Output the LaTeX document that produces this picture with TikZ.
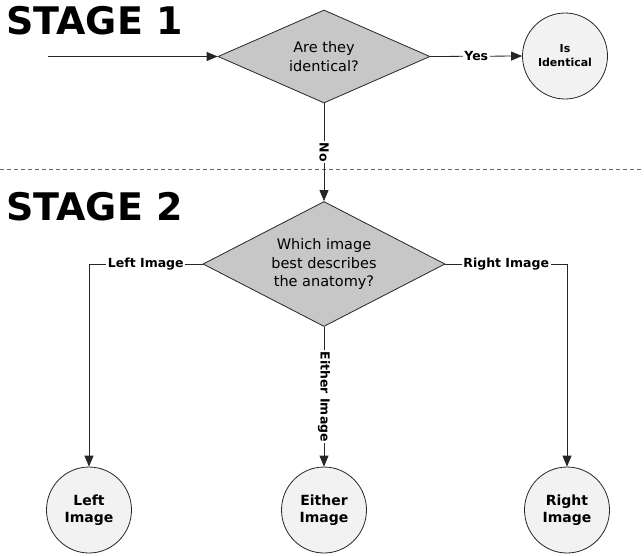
\documentclass[tikz,border=0pt]{standalone}
\usepackage{fontspec}
\setmainfont{DejaVu Sans}
\usetikzlibrary{shapes.geometric,arrows.meta}

\tikzset{
  flow/.style={draw=black!85, line width=0.8pt, -{Triangle[length=11pt,width=9pt]}},
  decision/.style={diamond, aspect=2, draw=black!85, line width=0.8pt, fill=black!22,
    inner sep=0pt, align=center, font=\fontsize{14.5}{18.5}\selectfont},
  outcome/.style={ellipse, draw=black!85, line width=0.8pt, fill=black!5,
    inner sep=0pt, align=center, font=\bfseries\fontsize{14}{17.5}\selectfont},
  edgelabel/.style={fill=white, inner sep=1.5pt, font=\bfseries\fontsize{12.5}{14}\selectfont},
  stagetitle/.style={anchor=west, inner sep=0pt, font=\bfseries\fontsize{38}{40}\selectfont},
}

\begin{document}
\begin{tikzpicture}[x=1pt, y=-1pt]
  \useasboundingbox (0,0) rectangle (644,555);

  % stage headings
  \node[stagetitle] (title1) at (6,21) {STAGE 1};
  \node[stagetitle] (title2) at (6,207) {STAGE 2};

  % separator between the two stages
  \draw[black!60, line width=0.8pt, dash pattern=on 3.5pt off 3.5pt] (0,169) -- (644,169);

  % stage 1
  \coordinate (start) at (48,56.5);
  \node[decision, minimum width=212pt, minimum height=93pt] (d1) at (324,56.5) {Are they\\identical?};
  \node[outcome, minimum width=85pt, minimum height=86pt,
        font=\bfseries\fontsize{11}{14}\selectfont] (same) at (565,56) {Is\\Identical};

  % stage 2
  \node[decision, minimum width=242pt, minimum height=125pt] (d2) at (324,264)
    {Which image\\best describes\\the anatomy?};
  \node[outcome, minimum width=85pt, minimum height=86pt] (left) at (89,510) {Left\\Image};
  \node[outcome, minimum width=85pt, minimum height=86pt] (either) at (324,510) {Either\\Image};
  \node[outcome, minimum width=85pt, minimum height=86pt] (right) at (567,510) {Right\\Image};

  % connectors
  \draw[flow] (start) -- (d1.west);
  \draw[flow] (d1.east) -- node[edgelabel] {Yes} (same.west);
  \draw[flow] (d1.south) -- node[edgelabel, rotate=-90, pos=0.5] {No} (d2.north);
  \draw[flow] (d2.west) -| node[edgelabel, pos=0.25] {Left Image} (left.north);
  \draw[flow] (d2.east) -| node[edgelabel, pos=0.25] {Right Image} (right.north);
  \draw[flow] (d2.south) -- node[edgelabel, rotate=-90, pos=0.5] {Either Image} (either.north);
\end{tikzpicture}
\end{document}
